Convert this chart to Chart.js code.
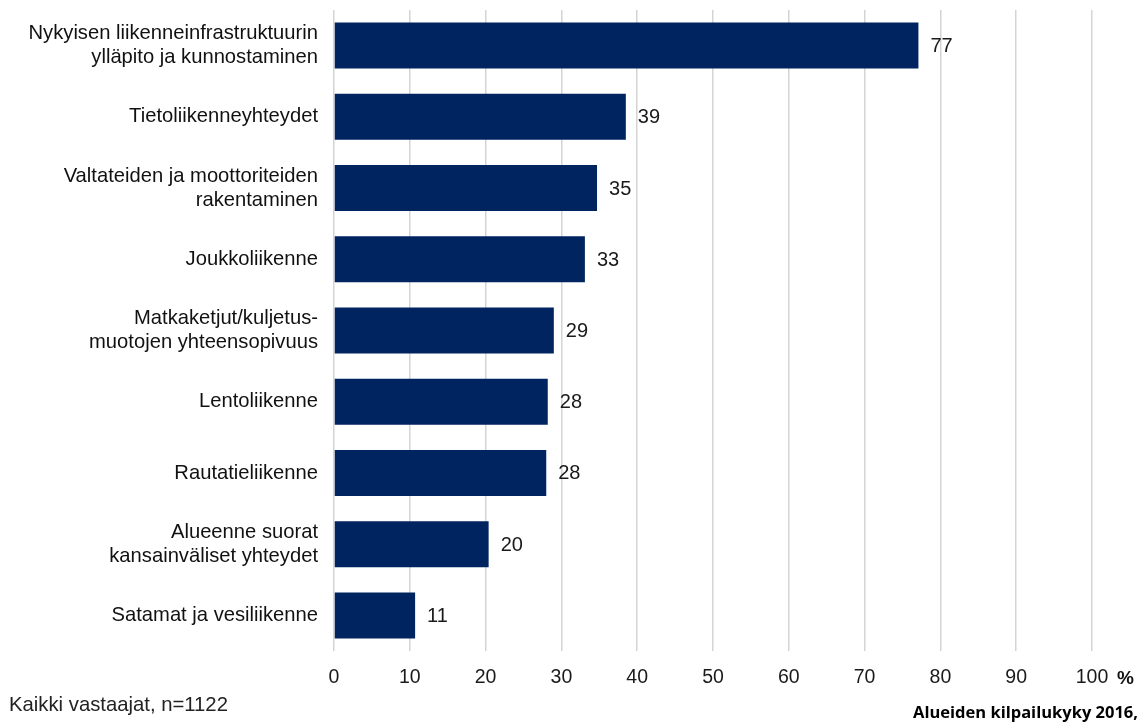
<!DOCTYPE html>
<html>
<head>
<meta charset="utf-8">
<script src="https://cdn.jsdelivr.net/npm/chart.js@4"></script>
<style>
  body { margin: 0; background: #fff; }
  #wrap { width: 1146px; height: 725px; position: relative; }
</style>
</head>
<body>
<div id="wrap"><canvas id="myChart" width="1146" height="725"></canvas></div>
<script>
var categories = [
  ["Nykyisen liikenneinfrastruktuurin", "ylläpito ja kunnostaminen"],
  "Tietoliikenneyhteydet",
  ["Valtateiden ja moottoriteiden", "rakentaminen"],
  "Joukkoliikenne",
  ["Matkaketjut/kuljetus-", "muotojen yhteensopivuus"],
  "Lentoliikenne",
  "Rautatieliikenne",
  ["Alueenne suorat", "kansainväliset yhteydet"],
  "Satamat ja vesiliikenne"
];
var values = [77.1, 38.5, 34.7, 33.1, 29.0, 28.2, 28.0, 20.4, 10.7];
var valueLabels = ["77", "39", "35", "33", "29", "28", "28", "20", "11"];
var xTicks = [0, 10, 20, 30, 40, 50, 60, 70, 80, 90, 100];
var footLeft = "Kaikki vastaajat, n=1122";
var footRight = "Alueiden kilpailukyky 2016,";
var unit = "%";

var FONT = "'Liberation Sans', Arial, sans-serif";

var extras = {
  id: "extras",
  afterDatasetsDraw: function(chart) {
    var ctx = chart.ctx;
    var meta = chart.getDatasetMeta(0);
    ctx.save();
    ctx.fillStyle = "#1a1a1a";
    ctx.font = "20px " + FONT;
    ctx.textAlign = "left";
    ctx.textBaseline = "middle";
    meta.data.forEach(function(bar, i) {
      ctx.fillText(valueLabels[i], bar.x + 12, bar.y + 1);
    });
    ctx.restore();
  },
  afterDraw: function(chart) {
    var ctx = chart.ctx;
    ctx.save();
    ctx.fillStyle = "#111";
    ctx.font = "bold 19px " + FONT;
    ctx.textAlign = "left";
    ctx.textBaseline = "middle";
    ctx.fillText(unit, 1117, 679);
    ctx.fillStyle = "#222";
    ctx.font = "20.3px " + FONT;
    ctx.fillText(footLeft, 9, 705);
    ctx.fillStyle = "#000";
    ctx.font = "bold 16.5px 'Open Sans', sans-serif";
    ctx.textAlign = "right";
    ctx.fillText(footRight, 1138, 713);
    ctx.restore();
  }
};

var ctx = document.getElementById("myChart").getContext("2d");
var chart = new Chart(ctx, {
  type: "bar",
  data: {
    labels: categories,
    datasets: [
      {
        data: values,
        backgroundColor: "#002460",
        borderColor: "#002460",
        borderWidth: 0,
        barPercentage: 0.646,
        categoryPercentage: 1
      }
    ]
  },
  options: {
    indexAxis: "y",
    responsive: false,
    animation: false,
    devicePixelRatio: 1,
    layout: { padding: { left: 0, right: 54, top: 10, bottom: 0 } },
    plugins: {
      legend: { display: false },
      tooltip: { enabled: false }
    },
    scales: {
      x: {
        min: 0,
        max: 100,
        afterBuildTicks: function(scale) {
          scale.ticks = xTicks.map(function(v) { return { value: v }; });
        },
        afterFit: function(scale) {
          scale.height = 74;
          scale.paddingLeft = 0;
          scale.paddingRight = 0;
        },
        grid: { color: "#d4d4d4", lineWidth: 1.5, drawTicks: false },
        border: { display: false },
        ticks: {
          color: "#1a1a1a",
          padding: 15,
          font: { family: FONT, size: 19.5 }
        }
      },
      y: {
        afterFit: function(scale) {
          scale.width = 334;
          scale.paddingTop = 0;
          scale.paddingBottom = 0;
        },
        grid: { display: false, drawTicks: false },
        border: { display: false },
        ticks: {
          color: "#111",
          padding: 16,
          font: { family: FONT, size: 20.2, lineHeight: 1.2 }
        }
      }
    }
  },
  plugins: [extras]
});
</script>
</body>
</html>
